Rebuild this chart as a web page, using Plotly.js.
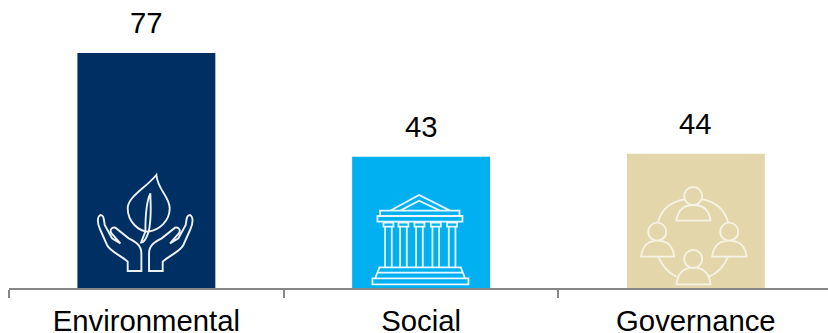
<!DOCTYPE html>
<html>
<head>
<meta charset="utf-8">
<script src="https://cdn.plot.ly/plotly-3.0.1.min.js"></script>
<style>html,body{margin:0;padding:0;background:#fff;overflow:hidden}</style>
</head>
<body>
<div id="chart" style="width:828px;height:333px"></div>
<script>
const categories = ['Environmental', 'Social', 'Governance'];
const scores = [77, 43, 44];
const barColors = ['#003063', '#00b0f0', '#e2d6aa'];

// Icon outlines are authored at 3 units per pixel; y grows downward in the source.
function place(path, ox, oy) {
  let n = 0;
  return path.replace(/-?\d+(\.\d+)?/g, v => {
    const out = (n++ % 2 === 0) ? (+v / 3 + ox) : (oy - +v / 3);
    return out.toFixed(2);
  });
}
function circle(cx, cy, r) {
  const k = r * 0.5523;
  return `M ${cx - r} ${cy} C ${cx - r} ${cy - k} ${cx - k} ${cy - r} ${cx} ${cy - r} ` +
    `C ${cx + k} ${cy - r} ${cx + r} ${cy - k} ${cx + r} ${cy} ` +
    `C ${cx + r} ${cy + k} ${cx + k} ${cy + r} ${cx} ${cy + r} ` +
    `C ${cx - k} ${cy + r} ${cx - r} ${cy + k} ${cx - r} ${cy} Z `;
}
function rect(x0, y0, x1, y1) {
  return `M ${x0} ${y0} L ${x1} ${y0} L ${x1} ${y1} L ${x0} ${y1} Z `;
}
function dome(x0, x1, base, top) {
  const w = x1 - x0;
  return `M ${x0} ${base} C ${x0 + w * 0.04} ${top + (base - top) * 0.25} ${x0 + w * 0.25} ${top} ${x0 + w / 2} ${top} ` +
    `C ${x1 - w * 0.25} ${top} ${x1 - w * 0.04} ${top + (base - top) * 0.25} ${x1} ${base} Z `;
}
function hand(m) {
  const X = x => m ? 449 - x : x;
  return `M ${X(172)} 333 L ${X(172)} 305 C ${X(150)} 285 ${X(120)} 275 ${X(110)} 255 L ${X(90)} 210 ` +
    `C ${X(80)} 190 ${X(80)} 170 ${X(90)} 165 C ${X(100)} 165 ${X(100)} 175 ${X(103)} 195 L ${X(125)} 235 L ${X(150)} 250 ` +
    `L ${X(125)} 222 C ${X(115)} 210 ${X(125)} 200 ${X(135)} 203 L ${X(175)} 235 C ${X(195)} 245 ${X(213)} 255 ${X(213)} 280 ` +
    `L ${X(213)} 333 Z `;
}

const leafIcon =
  'M 258 45 C 262 90 298 110 298 145 C 298 185 265 210 235 215 ' +
  'C 205 215 172 185 172 145 C 172 110 225 85 258 45 Z ' +
  'M 240 100 C 225 130 225 190 225 215 L 212 248 C 222 248 230 230 235 215 C 245 170 240 130 240 100 Z ' +
  hand(false) + hand(true);

let templeIcon =
  'M 135 92 L 222 45 L 315 92 M 165 92 L 222 62 L 285 92 ' +
  rect(105, 92, 343, 108) + rect(97, 108, 352, 125) +
  'M 90 295 L 103 262 L 347 262 L 360 295 M 96 278 L 354 278 ' + rect(82, 295, 370, 313);
[130, 175, 223, 272, 321].forEach(c => {
  templeIcon += rect(c - 15, 128, c + 15, 140) + rect(c - 10, 140, c + 10, 262);
});

const circleIcon =
  circle(220, 78, 27) + dome(170, 272, 152, 105) +
  circle(112, 185, 27) + dome(64, 163, 260, 212) +
  circle(328, 185, 27) + dome(277, 380, 260, 212) +
  circle(220, 267, 27) + dome(170, 272, 343, 293) +
  'M 248 88 Q 310 100 325 158 M 193 88 Q 130 100 115 155 M 115 260 Q 135 305 170 320 M 325 260 Q 305 305 268 320';

// Each icon is pinned to its category at the baseline and sized in pixels.
function iconShape(cat, path, oy, color, width) {
  return {
    type: 'path', layer: 'above',
    xref: 'x', yref: 'y', xsizemode: 'pixel', ysizemode: 'pixel',
    xanchor: cat, yanchor: 0,
    path: place(path, -76, oy),
    line: {color: color, width: width}, fillcolor: 'rgba(0,0,0,0)'
  };
}

const labelFont = {family: '"Liberation Sans", Arial, sans-serif', size: 29.3, color: '#000'};

Plotly.newPlot('chart', [{
  type: 'bar',
  x: categories,
  y: scores,
  width: 0.502,
  marker: {color: barColors, line: {width: 0}},
  hoverinfo: 'skip'
}], {
  width: 828, height: 333,
  margin: {l: 8.5, r: 0, t: 0, b: 45},
  paper_bgcolor: '#fff', plot_bgcolor: '#fff',
  showlegend: false,
  xaxis: {
    type: 'category', range: [-0.5, 2.481], tickson: 'boundaries',
    ticks: 'outside', ticklen: 8, tickwidth: 2, tickcolor: '#868686',
    showline: true, linecolor: '#868686', linewidth: 2,
    showgrid: false, zeroline: false, tickfont: labelFont, ticklabelstandoff: 6
  },
  yaxis: {range: [0, 94.4], visible: false, fixedrange: true},
  annotations: categories.map((c, i) => ({
    x: c, y: scores[i], xref: 'x', yref: 'y', text: String(scores[i]),
    showarrow: false, yanchor: 'bottom', yshift: 12, font: labelFont
  })),
  shapes: [
    iconShape(categories[0], leafIcon, 128, '#eef1f4', 1.9),
    iconShape(categories[1], templeIcon, 108, '#e8f8fe', 1.8),
    iconShape(categories[2], circleIcon, 118, '#f6f2e4', 1.9)
  ]
}, {displayModeBar: false, staticPlot: true});
</script>
</body>
</html>
